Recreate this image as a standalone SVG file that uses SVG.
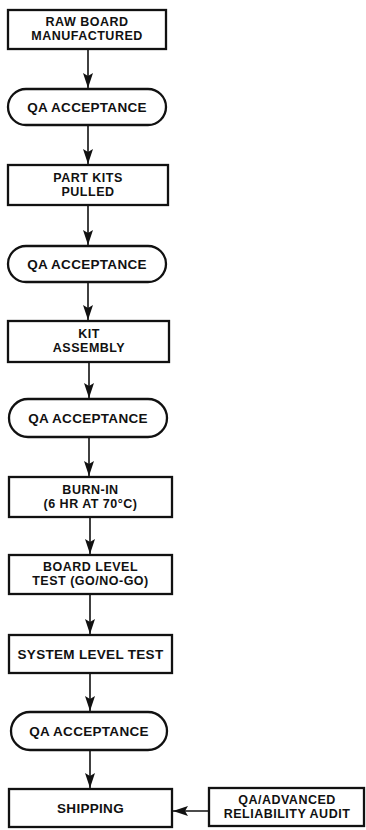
<svg xmlns="http://www.w3.org/2000/svg" width="366" height="830" viewBox="0 0 366 830">
<style>
.box{fill:#fff;stroke:#111;stroke-width:2.3}
.t{font-family:"Liberation Sans",Arial,sans-serif;font-weight:bold;font-size:12.5px;letter-spacing:0.5px;fill:#111;text-anchor:middle}
.q{font-size:13.5px;letter-spacing:0.3px}
.c{stroke:#111;stroke-width:1.6;fill:none}
</style>
<defs>
<marker id="ah" markerUnits="userSpaceOnUse" markerWidth="15" markerHeight="10" refX="15" refY="5" orient="auto">
<path d="M0,0 L15,5 L0,10 L3,5 z" fill="#111"/>
</marker>
</defs>
<rect width="366" height="830" fill="#fff"/>
<g id="connectors">
<line class="c" x1="88" y1="49" x2="88" y2="88" marker-end="url(#ah)"/>
<line class="c" x1="88" y1="125" x2="88" y2="164" marker-end="url(#ah)"/>
<line class="c" x1="88" y1="205" x2="88" y2="245" marker-end="url(#ah)"/>
<line class="c" x1="88" y1="282" x2="88" y2="320" marker-end="url(#ah)"/>
<line class="c" x1="89" y1="362" x2="89" y2="398" marker-end="url(#ah)"/>
<line class="c" x1="89" y1="437" x2="89" y2="476" marker-end="url(#ah)"/>
<line class="c" x1="90" y1="517" x2="90" y2="554" marker-end="url(#ah)"/>
<line class="c" x1="90" y1="594" x2="90" y2="634" marker-end="url(#ah)"/>
<line class="c" x1="90" y1="673" x2="90" y2="711" marker-end="url(#ah)"/>
<line class="c" x1="90" y1="750" x2="90" y2="788" marker-end="url(#ah)"/>
<line class="c" x1="209" y1="811" x2="173" y2="811" marker-end="url(#ah)"/>
</g>
<g id="raw-board">
<rect class="box" x="8" y="10" width="158" height="39"/>
<text class="t" x="87" y="25.5">RAW BOARD</text>
<text class="t" x="87" y="39.5">MANUFACTURED</text>
</g>
<g id="qa1">
<rect class="box" x="8" y="89" width="158" height="36" rx="18"/>
<text class="t q" x="87" y="112">QA ACCEPTANCE</text>
</g>
<g id="part-kits">
<rect class="box" x="8" y="165" width="160" height="40"/>
<text class="t" x="88" y="181.5">PART KITS</text>
<text class="t" x="88" y="195.5">PULLED</text>
</g>
<g id="qa2">
<rect class="box" x="8" y="246" width="158" height="36" rx="18"/>
<text class="t q" x="87" y="269">QA ACCEPTANCE</text>
</g>
<g id="kit-assembly">
<rect class="box" x="8" y="321" width="161" height="41"/>
<text class="t" x="89" y="337.5">KIT</text>
<text class="t" x="89" y="351.5">ASSEMBLY</text>
</g>
<g id="qa3">
<rect class="box" x="9" y="399" width="158" height="38" rx="19"/>
<text class="t q" x="88" y="423">QA ACCEPTANCE</text>
</g>
<g id="burn-in">
<rect class="box" x="9" y="477" width="163" height="40"/>
<text class="t" x="90.5" y="493.5">BURN-IN</text>
<text class="t" x="90.5" y="507.5">(6 HR AT 70°C)</text>
</g>
<g id="board-level">
<rect class="box" x="9" y="555" width="163" height="39"/>
<text class="t" x="90.5" y="571">BOARD LEVEL</text>
<text class="t" x="90.5" y="585">TEST (GO/NO-GO)</text>
</g>
<g id="system-level">
<rect class="box" x="9" y="635" width="163" height="38"/>
<text class="t q" x="90.5" y="658.5">SYSTEM LEVEL TEST</text>
</g>
<g id="qa4">
<rect class="box" x="11" y="712" width="156" height="38" rx="19"/>
<text class="t q" x="89" y="736">QA ACCEPTANCE</text>
</g>
<g id="shipping">
<rect class="box" x="9" y="789" width="163" height="38"/>
<text class="t q" x="90.5" y="813">SHIPPING</text>
</g>
<g id="qa-audit">
<rect class="box" x="209" y="788" width="155" height="38"/>
<text class="t" x="287" y="804">QA/ADVANCED</text>
<text class="t" x="287" y="818">RELIABILITY  AUDIT</text>
</g>
</svg>
